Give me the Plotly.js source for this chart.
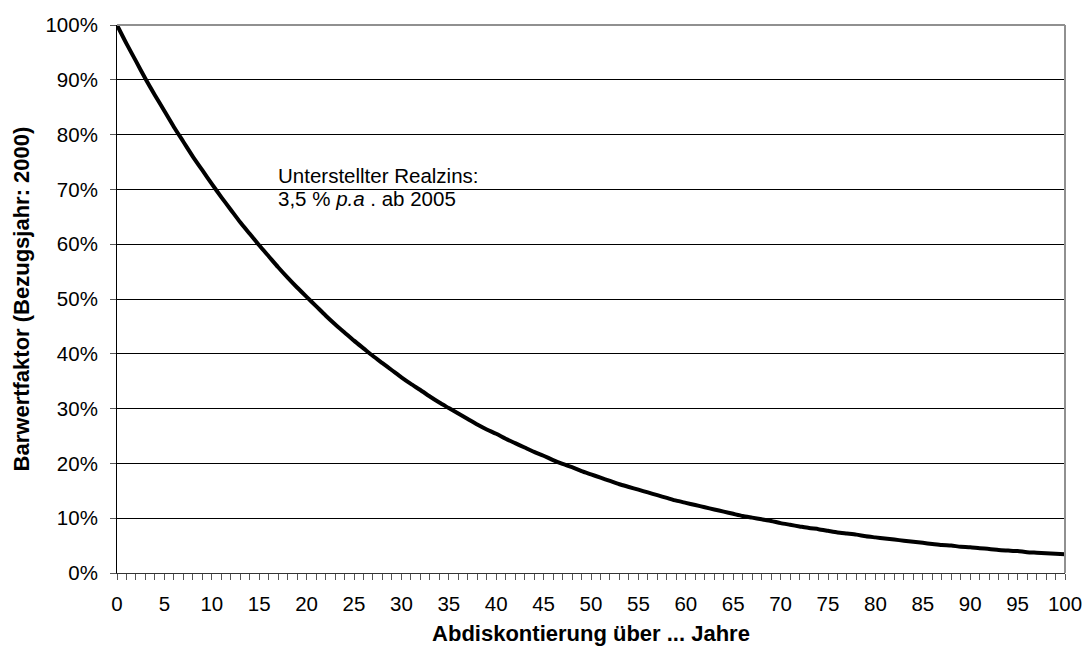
<!DOCTYPE html>
<html>
<head>
<meta charset="utf-8">
<script src="https://cdn.plot.ly/plotly-3.0.1.min.js"></script>
<style>html,body{margin:0;padding:0;background:#fff;}#chart{width:1084px;height:653px;}</style>
</head>
<body>
<div id="chart"></div>
<script>
// Years of discounting (0..100)
const years = [];
for (let i = 0; i <= 100; i++) years.push(i);

// Present value factor in %
const factorPct = [
  100.0, 96.6, 93.4, 90.2, 87.2, 84.3, 81.4, 78.7, 76.0, 73.5,
  71.0, 68.6, 66.3, 64.0, 61.9, 59.8, 57.8, 55.8, 53.9, 52.1,
  50.4, 48.7, 47.0, 45.4, 43.9, 42.4, 41.0, 39.6, 38.3, 37.0,
  35.7, 34.5, 33.4, 32.2, 31.1, 30.1, 29.1, 28.1, 27.1, 26.2,
  25.4, 24.5, 23.7, 22.9, 22.1, 21.4, 20.6, 19.9, 19.3, 18.6,
  18.0, 17.4, 16.8, 16.2, 15.7, 15.2, 14.7, 14.2, 13.7, 13.2,
  12.8, 12.4, 12.0, 11.6, 11.2, 10.8, 10.4, 10.1, 9.8, 9.5,
  9.1, 8.8, 8.5, 8.2, 8.0, 7.7, 7.4, 7.2, 7.0, 6.7,
  6.5, 6.3, 6.1, 5.9, 5.7, 5.5, 5.3, 5.1, 5.0, 4.8,
  4.7, 4.5, 4.4, 4.2, 4.1, 4.0, 3.8, 3.7, 3.6, 3.5,
  3.4
];

const xTickVals = [0,5,10,15,20,25,30,35,40,45,50,55,60,65,70,75,80,85,90,95,100];
const xTickText = xTickVals.map(String);
const yTickVals = [0,10,20,30,40,50,60,70,80,90,100];
const yTickText = yTickVals.map(v => v + '%');

const titleX = 'Abdiskontierung über ... Jahre';
const titleY = 'Barwertfaktor (Bezugsjahr: 2000)';
const noteLine1 = 'Unterstellter Realzins:';
const noteLine2 = '3,5 % <i>p.a</i> . ab 2005';
const noteX = 16.8, noteY1 = 72.6, noteY2 = 68.4;

const FONT = 'Liberation Sans, Arial, Helvetica, sans-serif';
const FS = 20.5;
const FT = 22;

const trace = {
  x: years,
  y: factorPct,
  type: 'scatter',
  mode: 'lines',
  line: {color: '#000000', width: 4, shape: 'spline', smoothing: 0.6},
  hoverinfo: 'x+y',
  showlegend: false
};

const layout = {
  width: 1084,
  height: 653,
  margin: {l: 117, r: 19, t: 25, b: 80},
  paper_bgcolor: '#ffffff',
  plot_bgcolor: '#ffffff',
  font: {family: FONT, size: FS, color: '#000000'},
  showlegend: false,
  xaxis: {
    range: [0, 100],
    tickmode: 'array',
    tickvals: xTickVals,
    ticktext: xTickText,
    ticks: 'outside',
    ticklen: 6,
    tickwidth: 1,
    tickcolor: '#555555',
    ticklabelstandoff: 6,
    minor: {dtick: 1, tick0: 0, ticks: 'outside', ticklen: 6, tickwidth: 1, tickcolor: '#555555', showgrid: false},
    showline: true,
    linecolor: '#333333',
    linewidth: 1,
    showgrid: false,
    zeroline: false,
    tickfont: {family: FONT, size: FS, color: '#000000'},
    title: {text: '<b>' + titleX + '</b>', font: {family: FONT, size: FT, color: '#000000'}, standoff: 12},
    fixedrange: true
  },
  yaxis: {
    range: [0, 100],
    tickmode: 'array',
    tickvals: yTickVals,
    ticktext: yTickText,
    ticks: 'outside',
    ticklen: 6,
    tickwidth: 1,
    tickcolor: '#555555',
    ticklabelstandoff: 8,
    showline: true,
    linecolor: '#000000',
    linewidth: 1,
    showgrid: true,
    gridcolor: '#000000',
    gridwidth: 1,
    zeroline: false,
    tickfont: {family: FONT, size: FS, color: '#000000'},
    title: {text: '<b>' + titleY + '</b>', font: {family: FONT, size: FT, color: '#000000'}, standoff: 9},
    fixedrange: true
  },
  shapes: [
    {type: 'line', xref: 'paper', yref: 'paper', x0: 0, x1: 1, y0: 1, y1: 1, line: {color: '#909090', width: 2}},
    {type: 'line', xref: 'paper', yref: 'paper', x0: 1, x1: 1, y0: 0, y1: 1, line: {color: '#909090', width: 2}}
  ],
  annotations: [
    {
      x: noteX, y: noteY1, xref: 'x', yref: 'y',
      xanchor: 'left', yanchor: 'middle', align: 'left',
      text: noteLine1, showarrow: false,
      font: {family: FONT, size: FS, color: '#000000'}
    },
    {
      x: noteX, y: noteY2, xref: 'x', yref: 'y',
      xanchor: 'left', yanchor: 'middle', align: 'left',
      text: noteLine2, showarrow: false,
      font: {family: FONT, size: FS, color: '#000000'}
    }
  ]
};

Plotly.newPlot('chart', [trace], layout, {displayModeBar: false, staticPlot: true});
</script>
</body>
</html>
